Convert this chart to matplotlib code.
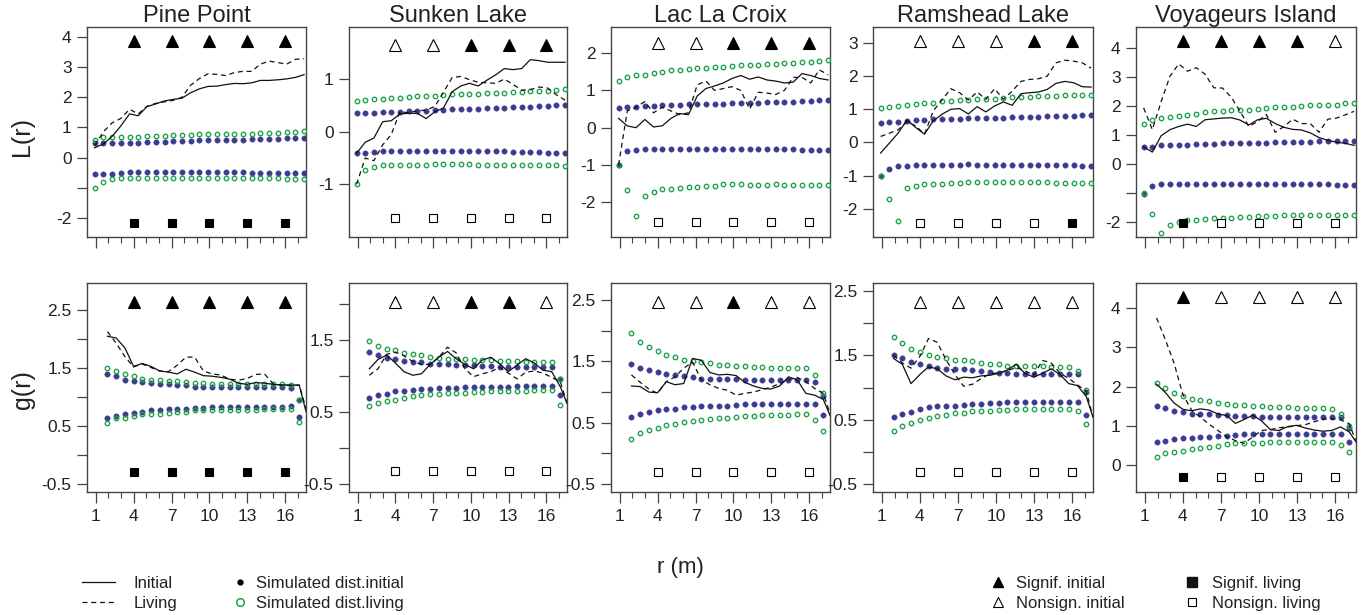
import numpy as np
import matplotlib.pyplot as plt
from matplotlib.lines import Line2D

plt.rcParams['font.family'] = ['Liberation Sans', 'DejaVu Sans']

sites = ['Pine Point', 'Sunken Lake', 'Lac La Croix', 'Ramshead Lake', 'Voyageurs Island']

# distance classes (m)
r_L = [0.90, 1.59, 2.28, 2.98, 3.67, 4.36, 5.05, 5.74, 6.44, 7.13, 7.82, 8.51, 9.20,
       9.89, 10.58, 11.28, 11.97, 12.66, 13.35, 14.04, 14.73, 15.43, 16.12, 16.81, 17.50]
r_g = [1.92, 2.61, 3.30, 3.99, 4.68, 5.37, 6.06, 6.76, 7.45, 8.14, 8.83, 9.52, 10.21,
       10.90, 11.59, 12.28, 12.97, 13.67, 14.36, 15.05, 15.74, 16.43, 17.12]
r_g_line = r_g + [17.65]
test_r = [4, 7, 10, 13, 16]

# ---------------- L(r) ----------------
pine_L_init = [0.33, 0.45, 0.70, 1.05, 1.45, 1.39, 1.69, 1.78, 1.88, 1.93, 1.97, 2.15, 2.28,
               2.36, 2.37, 2.42, 2.46, 2.45, 2.48, 2.56, 2.56, 2.58, 2.61, 2.66, 2.75]
pine_L_living = [0.40, 0.85, 1.15, 1.30, 1.60, 1.45, 1.70, 1.80, 1.85, 1.90, 2.00, 2.40, 2.62,
                 2.78, 2.76, 2.72, 2.82, 2.86, 2.86, 3.10, 3.20, 3.15, 3.10, 3.26, 3.28]
pine_L_si_hi = [0.47, 0.47, 0.48, 0.49, 0.50, 0.50, 0.52, 0.53, 0.53, 0.54, 0.55, 0.56, 0.57,
                0.58, 0.58, 0.59, 0.60, 0.60, 0.61, 0.62, 0.62, 0.63, 0.64, 0.65, 0.66]
pine_L_si_lo = [-0.54, -0.53, -0.53, -0.50, -0.49, -0.49, -0.49, -0.49, -0.49, -0.49, -0.49, -0.49, -0.49,
                -0.49, -0.49, -0.49, -0.49, -0.49, -0.50, -0.50, -0.51, -0.52, -0.52, -0.52, -0.52]
pine_L_sl_hi = [0.60, 0.67, 0.68, 0.70, 0.70, 0.70, 0.72, 0.73, 0.73, 0.75, 0.75, 0.76, 0.77,
                0.77, 0.78, 0.78, 0.80, 0.79, 0.80, 0.81, 0.82, 0.82, 0.85, 0.86, 0.87]
pine_L_sl_lo = [-1.00, -0.80, -0.71, -0.69, -0.68, -0.68, -0.68, -0.68, -0.68, -0.68, -0.68, -0.68, -0.68,
                -0.68, -0.68, -0.68, -0.68, -0.68, -0.68, -0.68, -0.68, -0.69, -0.70, -0.70, -0.71]

sunk_L_init = [-0.41, -0.20, -0.12, 0.19, 0.21, 0.34, 0.35, 0.35, 0.25, 0.38, 0.45, 0.76, 0.87,
               0.92, 0.87, 0.98, 1.08, 1.20, 1.18, 1.20, 1.37, 1.35, 1.32, 1.32, 1.32]
sunk_L_living = [-1.00, -0.50, -0.55, -0.25, -0.05, 0.38, 0.36, 0.40, 0.41, 0.48, 0.75, 1.03, 1.05,
                 0.99, 0.94, 0.93, 0.92, 1.00, 0.90, 0.79, 0.80, 0.85, 0.83, 0.70, 0.60]
sunk_L_si_hi = [0.35, 0.35, 0.36, 0.37, 0.37, 0.38, 0.39, 0.40, 0.40, 0.41, 0.42, 0.43, 0.43,
                0.44, 0.44, 0.45, 0.45, 0.46, 0.47, 0.47, 0.47, 0.48, 0.49, 0.50, 0.50]
sunk_L_si_lo = [-0.41, -0.40, -0.38, -0.37, -0.37, -0.37, -0.37, -0.37, -0.37, -0.37, -0.37, -0.37, -0.37,
                -0.37, -0.37, -0.37, -0.37, -0.37, -0.38, -0.39, -0.39, -0.39, -0.40, -0.41, -0.41]
sunk_L_sl_hi = [0.59, 0.60, 0.62, 0.63, 0.64, 0.65, 0.66, 0.67, 0.68, 0.68, 0.70, 0.71, 0.71,
                0.72, 0.72, 0.73, 0.74, 0.74, 0.75, 0.76, 0.77, 0.78, 0.78, 0.79, 0.82]
sunk_L_sl_lo = [-1.00, -0.72, -0.67, -0.64, -0.64, -0.63, -0.63, -0.63, -0.63, -0.62, -0.62, -0.61, -0.61,
                -0.62, -0.63, -0.63, -0.63, -0.63, -0.63, -0.63, -0.63, -0.64, -0.64, -0.64, -0.65]

lac_L_init = [0.25, 0.05, 0.00, 0.22, 0.02, 0.05, 0.25, 0.38, 0.35, 0.85, 1.05, 1.12, 1.20,
              1.32, 1.40, 1.30, 1.36, 1.28, 1.25, 1.20, 1.22, 1.45, 1.40, 1.32, 1.28]
lac_L_living = [-1.00, 0.45, 0.55, 0.70, 0.40, 0.55, 0.45, 0.35, 0.40, 1.15, 1.25, 1.00, 1.05,
                1.10, 1.00, 0.50, 0.95, 0.93, 0.89, 1.00, 1.35, 1.35, 1.20, 1.55, 1.42]
lac_L_si_hi = [0.54, 0.55, 0.56, 0.57, 0.58, 0.60, 0.61, 0.62, 0.63, 0.63, 0.63, 0.64, 0.64,
               0.65, 0.66, 0.66, 0.67, 0.68, 0.69, 0.69, 0.70, 0.71, 0.72, 0.73, 0.74]
lac_L_si_lo = [-1.00, -0.63, -0.60, -0.58, -0.57, -0.57, -0.57, -0.57, -0.57, -0.57, -0.57, -0.57, -0.57,
               -0.57, -0.57, -0.57, -0.57, -0.57, -0.57, -0.58, -0.58, -0.59, -0.59, -0.60, -0.60]
lac_L_sl_hi = [1.24, 1.35, 1.42, 1.42, 1.48, 1.50, 1.56, 1.55, 1.58, 1.60, 1.60, 1.63, 1.64,
               1.66, 1.67, 1.68, 1.69, 1.70, 1.72, 1.73, 1.74, 1.75, 1.77, 1.78, 1.82]
lac_L_sl_lo = [-1.00, -1.68, -2.37, -1.82, -1.73, -1.64, -1.64, -1.62, -1.59, -1.58, -1.56, -1.56, -1.51,
               -1.50, -1.51, -1.53, -1.53, -1.53, -1.50, -1.53, -1.53, -1.53, -1.53, -1.53, -1.53]

ram_L_init = [-0.32, -0.02, 0.28, 0.68, 0.45, 0.25, 0.65, 0.85, 1.00, 1.02, 0.86, 1.08, 0.92,
              1.10, 1.22, 1.12, 1.47, 1.50, 1.52, 1.60, 1.78, 1.84, 1.80, 1.68, 1.67]
ram_L_living = [0.18, 0.28, 0.38, 0.62, 0.50, 0.25, 0.95, 1.28, 1.62, 1.50, 1.28, 1.52, 1.30,
                1.62, 1.30, 1.55, 1.84, 1.90, 1.92, 2.00, 2.40, 2.48, 2.45, 2.40, 2.24]
ram_L_si_hi = [0.58, 0.61, 0.63, 0.66, 0.68, 0.68, 0.70, 0.72, 0.72, 0.72, 0.73, 0.74, 0.74,
               0.74, 0.75, 0.77, 0.77, 0.77, 0.77, 0.79, 0.79, 0.80, 0.80, 0.83, 0.83]
ram_L_si_lo = [-1.02, -0.80, -0.72, -0.70, -0.68, -0.68, -0.67, -0.67, -0.67, -0.67, -0.66, -0.67, -0.67,
               -0.67, -0.67, -0.67, -0.67, -0.67, -0.67, -0.67, -0.67, -0.67, -0.69, -0.70, -0.70]
ram_L_sl_hi = [1.03, 1.06, 1.10, 1.13, 1.16, 1.18, 1.20, 1.24, 1.24, 1.27, 1.29, 1.31, 1.31,
               1.31, 1.34, 1.36, 1.36, 1.37, 1.39, 1.41, 1.41, 1.42, 1.42, 1.44, 1.44]
ram_L_sl_lo = [-1.00, -1.70, -2.38, -1.38, -1.30, -1.26, -1.25, -1.24, -1.22, -1.22, -1.20, -1.20, -1.20,
               -1.20, -1.20, -1.20, -1.20, -1.20, -1.20, -1.20, -1.22, -1.22, -1.22, -1.22, -1.22]

voy_L_init = [0.60, 0.42, 0.98, 1.19, 1.30, 1.38, 1.30, 1.53, 1.56, 1.59, 1.60, 1.52, 1.35,
              1.53, 1.58, 1.40, 1.27, 1.20, 1.18, 1.08, 0.92, 0.82, 0.76, 0.72, 0.65]
voy_L_living = [1.94, 1.19, 2.15, 3.03, 3.45, 3.20, 3.32, 3.10, 2.63, 2.62, 2.30, 1.82, 1.30,
                1.47, 1.71, 1.10, 1.30, 1.55, 1.40, 1.40, 1.10, 1.55, 1.59, 1.70, 1.82]
voy_L_si_hi = [0.58, 0.61, 0.65, 0.65, 0.65, 0.65, 0.69, 0.69, 0.69, 0.73, 0.73, 0.73, 0.73,
               0.73, 0.73, 0.75, 0.76, 0.76, 0.76, 0.78, 0.81, 0.81, 0.81, 0.81, 0.81]
voy_L_si_lo = [-1.03, -0.74, -0.69, -0.67, -0.67, -0.67, -0.67, -0.67, -0.67, -0.67, -0.67, -0.67, -0.67,
               -0.67, -0.67, -0.67, -0.67, -0.67, -0.67, -0.67, -0.67, -0.68, -0.70, -0.71, -0.72]
voy_L_sl_hi = [1.38, 1.53, 1.59, 1.63, 1.67, 1.71, 1.74, 1.79, 1.82, 1.82, 1.85, 1.87, 1.88,
               1.91, 1.94, 1.96, 1.96, 1.98, 2.02, 2.03, 2.05, 2.05, 2.05, 2.09, 2.09]
voy_L_sl_lo = [-1.00, -1.70, -2.36, -2.08, -2.00, -1.93, -1.90, -1.87, -1.85, -1.85, -1.84, -1.81, -1.81,
               -1.79, -1.78, -1.78, -1.75, -1.75, -1.75, -1.75, -1.75, -1.75, -1.75, -1.75, -1.75]

# ---------------- g(r) ----------------
pine_g_init = [2.05, 2.02, 1.85, 1.53, 1.58, 1.53, 1.45, 1.43, 1.40, 1.48, 1.43, 1.37,
               1.36, 1.34, 1.31, 1.24, 1.22, 1.25, 1.24, 1.22, 1.21, 1.21, 1.20, 0.75]
pine_g_living = [2.13, 1.93, 1.70, 1.52, 1.57, 1.51, 1.45, 1.44, 1.55, 1.69, 1.69, 1.45,
                 1.40, 1.38, 1.31, 1.29, 1.32, 1.39, 1.40, 1.23, 1.20, 1.20, 1.21, 0.80]
pine_g_si_hi = [1.40, 1.36, 1.30, 1.28, 1.26, 1.24, 1.23, 1.22, 1.20, 1.20, 1.18, 1.18,
                1.17, 1.17, 1.17, 1.17, 1.17, 1.17, 1.17, 1.17, 1.17, 1.15, 0.95]
pine_g_si_lo = [0.64, 0.67, 0.71, 0.73, 0.75, 0.77, 0.78, 0.79, 0.80, 0.80, 0.81, 0.81,
                0.82, 0.82, 0.82, 0.82, 0.82, 0.82, 0.83, 0.83, 0.83, 0.84, 0.66]
pine_g_sl_hi = [1.51, 1.45, 1.39, 1.36, 1.32, 1.30, 1.30, 1.28, 1.27, 1.26, 1.25, 1.24,
                1.23, 1.23, 1.22, 1.22, 1.22, 1.22, 1.22, 1.22, 1.22, 1.20, 0.95]
pine_g_sl_lo = [0.56, 0.63, 0.64, 0.67, 0.70, 0.71, 0.71, 0.73, 0.74, 0.75, 0.77, 0.77,
                0.77, 0.78, 0.78, 0.78, 0.78, 0.78, 0.79, 0.79, 0.79, 0.79, 0.57]

sunk_g_init = [1.10, 1.23, 1.29, 1.18, 1.06, 1.01, 1.03, 1.16, 1.26, 1.34, 1.24, 1.16,
               1.10, 1.22, 1.26, 1.17, 1.06, 1.15, 1.24, 1.18, 1.08, 1.06, 0.85, 0.62]
sunk_g_living = [1.01, 1.10, 1.30, 1.33, 1.28, 1.20, 1.16, 1.16, 1.26, 1.40, 1.32, 1.10,
                 0.99, 1.03, 1.06, 1.12, 1.04, 0.96, 1.05, 1.07, 1.04, 0.98, 0.92, 0.62]
sunk_g_si_hi = [1.33, 1.29, 1.25, 1.23, 1.21, 1.20, 1.19, 1.17, 1.16, 1.16, 1.15, 1.15,
                1.15, 1.14, 1.14, 1.13, 1.13, 1.13, 1.13, 1.13, 1.13, 1.13, 0.96]
sunk_g_si_lo = [0.70, 0.74, 0.75, 0.79, 0.79, 0.81, 0.82, 0.82, 0.83, 0.83, 0.83, 0.85,
                0.85, 0.85, 0.85, 0.85, 0.85, 0.86, 0.86, 0.86, 0.86, 0.86, 0.73]
sunk_g_sl_hi = [1.49, 1.42, 1.38, 1.36, 1.32, 1.30, 1.29, 1.27, 1.25, 1.24, 1.23, 1.23,
                1.22, 1.22, 1.22, 1.21, 1.21, 1.21, 1.20, 1.20, 1.20, 1.20, 0.96]
sunk_g_sl_lo = [0.58, 0.63, 0.65, 0.67, 0.70, 0.72, 0.73, 0.75, 0.75, 0.76, 0.77, 0.77,
                0.78, 0.78, 0.79, 0.79, 0.79, 0.79, 0.79, 0.80, 0.80, 0.80, 0.60]

lac_g_init = [1.10, 1.09, 1.00, 0.99, 1.17, 1.12, 1.14, 1.55, 1.52, 1.32, 1.28, 1.29,
              1.27, 1.16, 1.10, 1.06, 1.05, 1.10, 1.25, 1.20, 0.98, 0.95, 0.88, 0.62]
lac_g_living = [1.28, 1.16, 1.05, 0.98, 1.17, 1.25, 1.39, 1.49, 1.20, 1.12, 1.06, 1.03,
                0.95, 0.98, 1.00, 1.04, 1.08, 1.14, 1.20, 1.24, 1.17, 1.06, 0.98, 0.65]
lac_g_si_hi = [1.46, 1.39, 1.36, 1.32, 1.30, 1.28, 1.26, 1.24, 1.22, 1.22, 1.21, 1.21,
               1.21, 1.20, 1.20, 1.20, 1.19, 1.19, 1.19, 1.19, 1.19, 1.17, 0.94]
lac_g_si_lo = [0.60, 0.64, 0.68, 0.70, 0.72, 0.73, 0.75, 0.76, 0.77, 0.77, 0.78, 0.78,
               0.79, 0.80, 0.80, 0.80, 0.80, 0.80, 0.80, 0.80, 0.80, 0.80, 0.62]
lac_g_sl_hi = [1.96, 1.82, 1.73, 1.67, 1.60, 1.57, 1.53, 1.51, 1.49, 1.47, 1.45, 1.44,
               1.42, 1.42, 1.41, 1.41, 1.40, 1.40, 1.39, 1.39, 1.39, 1.28, 0.99]
lac_g_sl_lo = [0.24, 0.34, 0.38, 0.42, 0.46, 0.48, 0.52, 0.53, 0.54, 0.56, 0.57, 0.58,
               0.60, 0.61, 0.61, 0.62, 0.62, 0.62, 0.62, 0.64, 0.64, 0.54, 0.37]

ram_g_init = [1.45, 1.36, 1.06, 1.20, 1.32, 1.29, 1.18, 1.12, 1.16, 1.15, 1.18, 1.19,
              1.22, 1.27, 1.36, 1.22, 1.16, 1.22, 1.29, 1.20, 1.06, 1.03, 0.86, 0.54]
ram_g_living = [1.50, 1.38, 1.30, 1.48, 1.76, 1.70, 1.43, 1.20, 1.02, 1.05, 1.14, 1.21,
                1.23, 1.26, 1.31, 1.26, 1.19, 1.42, 1.38, 1.22, 1.14, 1.04, 0.94, 0.54]
ram_g_si_hi = [1.51, 1.45, 1.39, 1.36, 1.33, 1.31, 1.29, 1.28, 1.28, 1.27, 1.25, 1.24,
               1.22, 1.22, 1.21, 1.21, 1.21, 1.21, 1.21, 1.21, 1.21, 1.21, 0.93]
ram_g_si_lo = [0.55, 0.59, 0.62, 0.67, 0.70, 0.71, 0.71, 0.72, 0.73, 0.75, 0.75, 0.76,
               0.76, 0.77, 0.77, 0.77, 0.77, 0.78, 0.78, 0.78, 0.78, 0.78, 0.57]
ram_g_sl_hi = [1.78, 1.69, 1.60, 1.55, 1.50, 1.48, 1.45, 1.43, 1.42, 1.41, 1.38, 1.37,
               1.36, 1.34, 1.33, 1.33, 1.33, 1.33, 1.32, 1.32, 1.32, 1.25, 0.96]
ram_g_sl_lo = [0.33, 0.41, 0.45, 0.50, 0.53, 0.56, 0.58, 0.60, 0.60, 0.63, 0.64, 0.64,
               0.65, 0.65, 0.67, 0.67, 0.67, 0.67, 0.67, 0.67, 0.67, 0.64, 0.44]

voy_g_init = [2.06, 1.85, 1.58, 1.42, 1.38, 1.43, 1.40, 1.30, 1.26, 1.06, 1.16, 1.27,
              1.12, 0.90, 0.88, 0.98, 1.01, 0.94, 0.89, 0.86, 0.88, 0.97, 0.84, 0.59]
voy_g_living = [3.75, 3.20, 2.60, 1.80, 1.40, 1.22, 1.04, 0.88, 0.72, 0.62, 0.55, 0.72,
                0.88, 0.90, 0.95, 0.97, 1.00, 1.03, 1.10, 1.17, 1.18, 1.15, 1.05, 0.60]
voy_g_si_hi = [1.51, 1.44, 1.38, 1.34, 1.31, 1.30, 1.29, 1.27, 1.27, 1.25, 1.25, 1.25,
               1.23, 1.23, 1.23, 1.23, 1.23, 1.21, 1.21, 1.21, 1.21, 1.21, 0.95]
voy_g_si_lo = [0.58, 0.62, 0.66, 0.69, 0.69, 0.72, 0.72, 0.74, 0.74, 0.76, 0.78, 0.78,
               0.80, 0.80, 0.80, 0.80, 0.80, 0.80, 0.80, 0.80, 0.80, 0.80, 0.59]
voy_g_sl_hi = [2.10, 1.95, 1.84, 1.75, 1.69, 1.65, 1.63, 1.58, 1.55, 1.54, 1.53, 1.51,
               1.50, 1.48, 1.48, 1.47, 1.46, 1.46, 1.44, 1.44, 1.42, 1.30, 1.00]
voy_g_sl_lo = [0.19, 0.30, 0.34, 0.36, 0.40, 0.44, 0.45, 0.49, 0.53, 0.55, 0.55, 0.57,
               0.57, 0.59, 0.59, 0.59, 0.59, 0.59, 0.59, 0.59, 0.59, 0.51, 0.34]

# significance at test distances: 1 = significant, 0 = not significant
pine_L_tri, pine_L_sq = [1, 1, 1, 1, 1], [1, 1, 1, 1, 1]
sunk_L_tri, sunk_L_sq = [0, 0, 1, 1, 1], [0, 0, 0, 0, 0]
lac_L_tri, lac_L_sq = [0, 0, 1, 1, 1], [0, 0, 0, 0, 0]
ram_L_tri, ram_L_sq = [0, 0, 0, 1, 1], [0, 0, 0, 0, 1]
voy_L_tri, voy_L_sq = [1, 1, 1, 1, 0], [1, 0, 0, 0, 0]
pine_g_tri, pine_g_sq = [1, 1, 1, 1, 1], [1, 1, 1, 1, 1]
sunk_g_tri, sunk_g_sq = [0, 0, 1, 1, 0], [0, 0, 0, 0, 0]
lac_g_tri, lac_g_sq = [0, 0, 1, 0, 0], [0, 0, 0, 0, 0]
ram_g_tri, ram_g_sq = [0, 0, 0, 0, 0], [0, 0, 0, 0, 0]
voy_g_tri, voy_g_sq = [1, 0, 0, 0, 0], [1, 0, 0, 0, 0]

# axis setup per panel
L_ylims = [(-2.63, 4.33), (-2.0, 1.99), (-2.93, 2.70), (-2.85, 3.48), (-2.5, 4.72)]
L_yticks = [[-2, -1, 0, 1, 2, 3, 4], [-1, 0, 1], [-2, -1, 0, 1, 2], [-2, -1, 0, 1, 2, 3],
            [-2, -1, 0, 1, 2, 3, 4]]
L_yhide = [[-1], [], [], [], [-1]]
g_ylims = [(-0.64, 2.97), (-0.61, 2.29), (-0.63, 2.78), (-0.62, 2.62), (-0.69, 4.64)]
g_yticks = [[-0.5, 0, 0.5, 1, 1.5, 2, 2.5], [-0.5, 0, 0.5, 1, 1.5, 2], [-0.5, 0, 0.5, 1, 1.5, 2, 2.5],
            [-0.5, 0, 0.5, 1, 1.5, 2, 2.5], [0, 1, 2, 3, 4]]
g_yhide = [[0, 1, 2], [0, 1, 2], [0, 1, 2], [0, 1, 2], []]

L_panels = [
    (pine_L_init, pine_L_living, pine_L_si_hi, pine_L_si_lo, pine_L_sl_hi, pine_L_sl_lo, pine_L_tri, pine_L_sq),
    (sunk_L_init, sunk_L_living, sunk_L_si_hi, sunk_L_si_lo, sunk_L_sl_hi, sunk_L_sl_lo, sunk_L_tri, sunk_L_sq),
    (lac_L_init, lac_L_living, lac_L_si_hi, lac_L_si_lo, lac_L_sl_hi, lac_L_sl_lo, lac_L_tri, lac_L_sq),
    (ram_L_init, ram_L_living, ram_L_si_hi, ram_L_si_lo, ram_L_sl_hi, ram_L_sl_lo, ram_L_tri, ram_L_sq),
    (voy_L_init, voy_L_living, voy_L_si_hi, voy_L_si_lo, voy_L_sl_hi, voy_L_sl_lo, voy_L_tri, voy_L_sq),
]
g_panels = [
    (pine_g_init, pine_g_living, pine_g_si_hi, pine_g_si_lo, pine_g_sl_hi, pine_g_sl_lo, pine_g_tri, pine_g_sq),
    (sunk_g_init, sunk_g_living, sunk_g_si_hi, sunk_g_si_lo, sunk_g_sl_hi, sunk_g_sl_lo, sunk_g_tri, sunk_g_sq),
    (lac_g_init, lac_g_living, lac_g_si_hi, lac_g_si_lo, lac_g_sl_hi, lac_g_sl_lo, lac_g_tri, lac_g_sq),
    (ram_g_init, ram_g_living, ram_g_si_hi, ram_g_si_lo, ram_g_sl_hi, ram_g_sl_lo, ram_g_tri, ram_g_sq),
    (voy_g_init, voy_g_living, voy_g_si_hi, voy_g_si_lo, voy_g_sl_hi, voy_g_sl_lo, voy_g_tri, voy_g_sq),
]

BLUE = '#3b3b91'
GREEN = '#1fa34a'
INK = '#222222'
FRAME = '#444444'

W, H = 1361, 615
fig = plt.figure(figsize=(W / 100, H / 100), dpi=100)

col_left = [87, 349, 611, 873, 1136]
col_right = [306, 567, 830, 1093, 1356]
row_top = [27, 283]
row_bot = [237, 492]


def style_axes(ax, ylim, yticks, yhide, show_xlabels):
    ax.set_xlim(0.3, 17.65)
    ax.set_ylim(*ylim)
    ax.set_xticks([1, 4, 7, 10, 13, 16])
    ax.set_xticks(range(1, 18), minor=True)
    ax.set_yticks(yticks)
    ax.set_yticklabels(['' if t in yhide else ('%g' % t) for t in yticks])
    ax.tick_params(axis='both', which='major', direction='out', color=FRAME,
                   labelsize=12.5, labelcolor=INK, width=0.9)
    ax.tick_params(axis='x', which='major', length=8, pad=4, labelbottom=show_xlabels)
    ax.tick_params(axis='x', which='minor', length=4, color=FRAME, width=0.8)
    ax.tick_params(axis='y', which='major', length=7, pad=4)
    for s in ax.spines.values():
        s.set_color(FRAME)
        s.set_linewidth(1.0)


def draw_panel(ax, r_dots, r_line, data, tri_y, sq_y):
    init, living, si_hi, si_lo, sl_hi, sl_lo, tri, sq = data
    for y in (si_hi, si_lo):
        ax.plot(r_dots, y, 'o', color=BLUE, ms=3.9, mec=BLUE, mew=0.3, zorder=2)
    for y in (sl_hi, sl_lo):
        ax.plot(r_dots, y, 'o', mfc='none', mec=GREEN, ms=3.2, mew=1.0, zorder=3)
    ax.plot(r_line, init, '-', color='#111111', lw=0.9, zorder=4)
    ax.plot(r_line, living, '--', color='#111111', lw=0.9, dashes=(4, 3), zorder=4)
    trans = ax.get_xaxis_transform()
    for r, s in zip(test_r, tri):
        ax.plot(r, tri_y, '^', ms=9, mec='black', mew=0.8,
                mfc='black' if s else 'white', transform=trans, zorder=5)
    for r, s in zip(test_r, sq):
        ax.plot(r, sq_y, 's', ms=6, mec='black', mew=0.8,
                mfc='black' if s else 'white', transform=trans, zorder=5)


L_marker_y = [(0.932, 0.068), (0.915, 0.090), (0.925, 0.072), (0.932, 0.068), (0.932, 0.068)]
g_marker_y = [(0.910, 0.095), (0.910, 0.100), (0.910, 0.095), (0.910, 0.098), (0.935, 0.072)]

for i in range(5):
    # L(r) row
    l, rgt = col_left[i], col_right[i]
    ax = fig.add_axes([l / W, 1 - row_bot[0] / H, (rgt - l) / W, (row_bot[0] - row_top[0]) / H])
    draw_panel(ax, r_L, r_L, L_panels[i], *L_marker_y[i])
    style_axes(ax, L_ylims[i], L_yticks[i], L_yhide[i], False)
    ax.set_title(sites[i], fontsize=17, color=INK, pad=1)

    # g(r) row
    ax = fig.add_axes([l / W, 1 - row_bot[1] / H, (rgt - l) / W, (row_bot[1] - row_top[1]) / H])
    draw_panel(ax, r_g, r_g_line, g_panels[i], *g_marker_y[i])
    style_axes(ax, g_ylims[i], g_yticks[i], g_yhide[i], True)

fig.text(22 / W, 1 - 136 / H, 'L(r)', rotation=90, ha='center', va='center', fontsize=18, color=INK)
fig.text(23 / W, 1 - 390 / H, 'g(r)', rotation=90, ha='center', va='center', fontsize=18, color=INK)
fig.text(680 / W, 1 - 567 / H, 'r (m)', ha='center', va='center', fontsize=16, color=INK)

# legends
leg_kw = dict(frameon=False, fontsize=12, labelspacing=0.28, borderpad=0, borderaxespad=0,
              loc='center left', labelcolor=INK)
leg_y = 1 - 593.5 / H
h1 = [Line2D([], [], color='#111111', lw=0.9),
      Line2D([], [], color='#111111', lw=0.9, ls='--', dashes=(4, 3))]
fig.legend(h1, ['Initial', 'Living'], bbox_to_anchor=(82 / W, leg_y),
           handlelength=2.0, handletextpad=1.1, **leg_kw)
h2 = [Line2D([], [], ls='none', marker='o', color='black', ms=3.5),
      Line2D([], [], ls='none', marker='o', mfc='none', mec=GREEN, ms=5.5, mew=1.1)]
fig.legend(h2, ['Simulated dist.initial', 'Simulated dist.living'], bbox_to_anchor=(233 / W, leg_y),
           handlelength=0.8, handletextpad=0.55, **leg_kw)
h3 = [Line2D([], [], ls='none', marker='^', color='black', ms=7),
      Line2D([], [], ls='none', marker='^', mfc='white', mec='black', mew=0.8, ms=7)]
fig.legend(h3, ['Signif. initial', 'Nonsign. initial'], bbox_to_anchor=(991 / W, leg_y),
           handlelength=0.8, handletextpad=0.7, **leg_kw)
h4 = [Line2D([], [], ls='none', marker='s', color='#111111', ms=7),
      Line2D([], [], ls='none', marker='s', mfc='white', mec='black', mew=0.8, ms=5.5)]
fig.legend(h4, ['Signif. living', 'Nonsign. living'], bbox_to_anchor=(1185 / W, leg_y),
           handlelength=0.8, handletextpad=0.8, **leg_kw)

fig.savefig('out.png', dpi=100)
